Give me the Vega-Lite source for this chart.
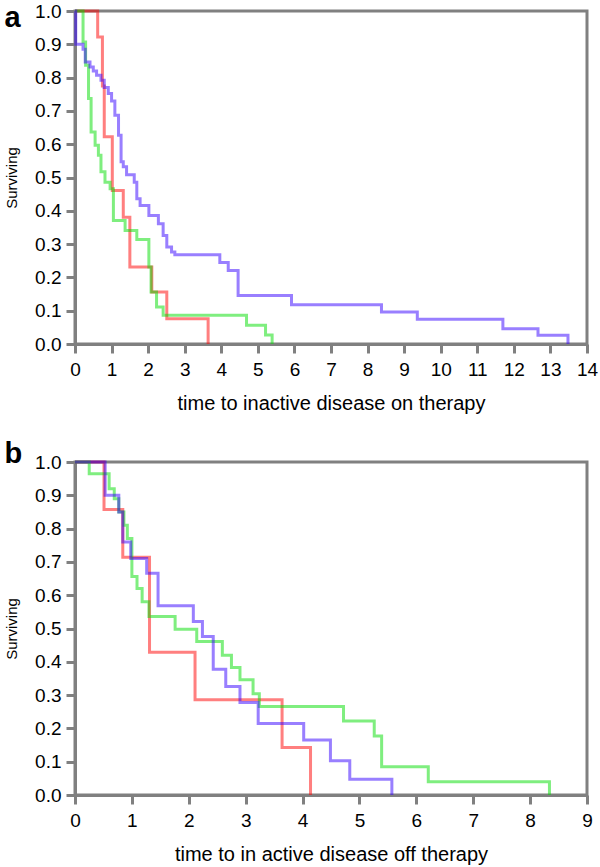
{
  "$schema": "https://vega.github.io/schema/vega-lite/v6.json",
  "padding": {"left": 3, "top": 0, "right": 0, "bottom": 0},
  "background": "white",
  "datasets": {
    "pa": [
      {"g": "red", "t": 0, "s": 1},
      {"g": "red", "t": 0.62, "s": 0.922},
      {"g": "red", "t": 0.75, "s": 0.775},
      {"g": "red", "t": 0.8, "s": 0.622},
      {"g": "red", "t": 1.02, "s": 0.461},
      {"g": "red", "t": 1.32, "s": 0.381},
      {"g": "red", "t": 1.5, "s": 0.231},
      {"g": "red", "t": 2.1, "s": 0.156},
      {"g": "red", "t": 2.51, "s": 0.076},
      {"g": "red", "t": 3.64, "s": 0},
      {"g": "green", "t": 0, "s": 1},
      {"g": "green", "t": 0.22, "s": 0.907},
      {"g": "green", "t": 0.29, "s": 0.837},
      {"g": "green", "t": 0.37, "s": 0.737},
      {"g": "green", "t": 0.44, "s": 0.637},
      {"g": "green", "t": 0.55, "s": 0.597},
      {"g": "green", "t": 0.64, "s": 0.567},
      {"g": "green", "t": 0.71, "s": 0.517},
      {"g": "green", "t": 0.82, "s": 0.486},
      {"g": "green", "t": 0.96, "s": 0.466},
      {"g": "green", "t": 1.05, "s": 0.371},
      {"g": "green", "t": 1.37, "s": 0.341},
      {"g": "green", "t": 1.69, "s": 0.314},
      {"g": "green", "t": 2.02, "s": 0.231},
      {"g": "green", "t": 2.08, "s": 0.156},
      {"g": "green", "t": 2.23, "s": 0.111},
      {"g": "green", "t": 2.41, "s": 0.086},
      {"g": "green", "t": 4.69, "s": 0.056},
      {"g": "green", "t": 5.21, "s": 0.027},
      {"g": "green", "t": 5.39, "s": 0},
      {"g": "purple", "t": 0, "s": 1},
      {"g": "purple", "t": 0.02, "s": 0.9},
      {"g": "purple", "t": 0.22, "s": 0.885},
      {"g": "purple", "t": 0.28, "s": 0.847},
      {"g": "purple", "t": 0.41, "s": 0.832},
      {"g": "purple", "t": 0.5, "s": 0.82},
      {"g": "purple", "t": 0.59, "s": 0.807},
      {"g": "purple", "t": 0.71, "s": 0.792},
      {"g": "purple", "t": 0.8, "s": 0.77},
      {"g": "purple", "t": 0.91, "s": 0.752},
      {"g": "purple", "t": 1.0, "s": 0.73},
      {"g": "purple", "t": 1.09, "s": 0.687},
      {"g": "purple", "t": 1.19, "s": 0.627},
      {"g": "purple", "t": 1.26, "s": 0.547},
      {"g": "purple", "t": 1.32, "s": 0.532},
      {"g": "purple", "t": 1.41, "s": 0.508},
      {"g": "purple", "t": 1.62, "s": 0.486},
      {"g": "purple", "t": 1.69, "s": 0.436},
      {"g": "purple", "t": 1.78, "s": 0.416},
      {"g": "purple", "t": 2.02, "s": 0.386},
      {"g": "purple", "t": 2.28, "s": 0.361},
      {"g": "purple", "t": 2.41, "s": 0.326},
      {"g": "purple", "t": 2.51, "s": 0.291},
      {"g": "purple", "t": 2.64, "s": 0.276},
      {"g": "purple", "t": 2.73, "s": 0.268},
      {"g": "purple", "t": 3.96, "s": 0.245},
      {"g": "purple", "t": 4.19, "s": 0.221},
      {"g": "purple", "t": 4.46, "s": 0.146},
      {"g": "purple", "t": 5.92, "s": 0.118},
      {"g": "purple", "t": 8.38, "s": 0.096},
      {"g": "purple", "t": 9.36, "s": 0.074},
      {"g": "purple", "t": 11.7, "s": 0.046},
      {"g": "purple", "t": 12.66, "s": 0.026},
      {"g": "purple", "t": 13.48, "s": 0}
    ],
    "pb": [
      {"g": "red", "t": 0, "s": 1},
      {"g": "red", "t": 0.51, "s": 0.857},
      {"g": "red", "t": 0.84, "s": 0.714},
      {"g": "red", "t": 1.31, "s": 0.429},
      {"g": "red", "t": 2.11, "s": 0.286},
      {"g": "red", "t": 3.64, "s": 0.143},
      {"g": "red", "t": 4.14, "s": 0},
      {"g": "green", "t": 0, "s": 1},
      {"g": "green", "t": 0.25, "s": 0.965},
      {"g": "green", "t": 0.6, "s": 0.92},
      {"g": "green", "t": 0.69, "s": 0.89},
      {"g": "green", "t": 0.77, "s": 0.85},
      {"g": "green", "t": 0.86, "s": 0.81},
      {"g": "green", "t": 0.92, "s": 0.77},
      {"g": "green", "t": 1.0, "s": 0.656},
      {"g": "green", "t": 1.09, "s": 0.62},
      {"g": "green", "t": 1.18, "s": 0.58},
      {"g": "green", "t": 1.3, "s": 0.536},
      {"g": "green", "t": 1.76, "s": 0.498},
      {"g": "green", "t": 2.14, "s": 0.461},
      {"g": "green", "t": 2.59, "s": 0.42},
      {"g": "green", "t": 2.75, "s": 0.383},
      {"g": "green", "t": 2.9, "s": 0.346},
      {"g": "green", "t": 3.13, "s": 0.304},
      {"g": "green", "t": 3.24, "s": 0.266},
      {"g": "green", "t": 4.72, "s": 0.222},
      {"g": "green", "t": 5.26, "s": 0.177},
      {"g": "green", "t": 5.39, "s": 0.085},
      {"g": "green", "t": 6.21, "s": 0.04},
      {"g": "green", "t": 8.34, "s": 0},
      {"g": "purple", "t": 0, "s": 1},
      {"g": "purple", "t": 0.53, "s": 0.9},
      {"g": "purple", "t": 0.77, "s": 0.85},
      {"g": "purple", "t": 0.84, "s": 0.76},
      {"g": "purple", "t": 0.98, "s": 0.71},
      {"g": "purple", "t": 1.26, "s": 0.666},
      {"g": "purple", "t": 1.46, "s": 0.568},
      {"g": "purple", "t": 2.08, "s": 0.521},
      {"g": "purple", "t": 2.24, "s": 0.476},
      {"g": "purple", "t": 2.43, "s": 0.378},
      {"g": "purple", "t": 2.65, "s": 0.326},
      {"g": "purple", "t": 2.9, "s": 0.278},
      {"g": "purple", "t": 3.22, "s": 0.215},
      {"g": "purple", "t": 4.02, "s": 0.165},
      {"g": "purple", "t": 4.49, "s": 0.103},
      {"g": "purple", "t": 4.83, "s": 0.047},
      {"g": "purple", "t": 5.57, "s": 0}
    ]
  },
  "config": {
    "view": {"stroke": "#808080", "strokeWidth": 3},
    "axis": {
      "domainColor": "#808080", "domainWidth": 3,
      "tickColor": "#808080", "tickWidth": 3, "tickSize": 9,
      "grid": false,
      "labelFont": "Liberation Sans", "labelFontSize": 19, "labelColor": "#000",
      "labelOverlap": false, "labelFlush": false,
      "titleFont": "Liberation Sans", "titleColor": "#000", "titleFontWeight": "normal"
    },
    "axisX": {"labelPadding": 7, "titleFontSize": 20, "titlePadding": 14},
    "axisY": {"labelPadding": 5, "titleFontSize": 15, "titlePadding": 15},
    "title": {"font": "Liberation Sans", "fontSize": 29, "fontWeight": "bold", "anchor": "start", "frame": "bounds", "color": "#000", "baseline": "alphabetic"},
    "line": {"strokeWidth": 3, "interpolate": "step-after", "strokeOpacity": 0.5}
  },
  "spacing": 23,
  "vconcat": [
    {
      "width": 512, "height": 333,
      "title": {"text": "a", "offset": -31},
      "data": {"name": "pa"},
      "mark": {"type": "line"},
      "encoding": {
        "x": {"field": "t", "type": "quantitative", "scale": {"domain": [0, 14], "nice": false},
              "axis": {"values": [0,1,2,3,4,5,6,7,8,9,10,11,12,13,14], "format": "d", "title": "time to inactive disease on therapy"}},
        "y": {"field": "s", "type": "quantitative", "scale": {"domain": [0, 1], "nice": false},
              "axis": {"values": [0,0.1,0.2,0.3,0.4,0.5,0.6,0.7,0.8,0.9,1], "format": ".1f", "title": "Surviving"}},
        "color": {"field": "g", "type": "nominal", "legend": null,
                  "scale": {"domain": ["red", "green", "purple"], "range": ["#ff0000", "#00dd00", "#3300ff"]}}
      }
    },
    {
      "width": 512, "height": 333,
      "title": {"text": "b", "offset": -16},
      "data": {"name": "pb"},
      "mark": {"type": "line"},
      "encoding": {
        "x": {"field": "t", "type": "quantitative", "scale": {"domain": [0, 9], "nice": false},
              "axis": {"values": [0,1,2,3,4,5,6,7,8,9], "format": "d", "title": "time to in active disease  off therapy"}},
        "y": {"field": "s", "type": "quantitative", "scale": {"domain": [0, 1], "nice": false},
              "axis": {"values": [0,0.1,0.2,0.3,0.4,0.5,0.6,0.7,0.8,0.9,1], "format": ".1f", "title": "Surviving"}},
        "color": {"field": "g", "type": "nominal", "legend": null,
                  "scale": {"domain": ["red", "green", "purple"], "range": ["#ff0000", "#00dd00", "#3300ff"]}}
      }
    }
  ]
}
